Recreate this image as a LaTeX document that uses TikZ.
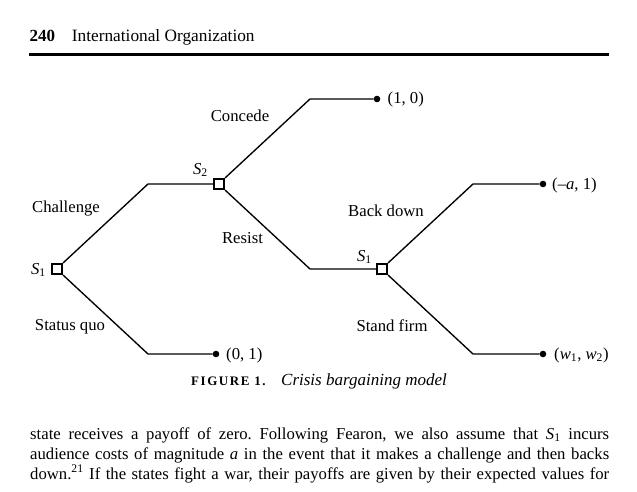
\documentclass[tikz,border=0pt]{standalone}
\usepackage{fontspec}
\setmainfont{Liberation Serif}
\newfontfamily\capfont[LetterSpace=12]{Liberation Serif}
\frenchspacing
\begin{document}
\begin{tikzpicture}[x=1pt,y=-1pt,
  dm/.style={draw, line width=1.6pt, minimum size=10.4pt, inner sep=0pt, fill=white},
  tdot/.style={circle, fill, inner sep=0pt, minimum size=6.6pt},
  br/.style={line width=1.35pt},
  lab/.style={inner sep=0pt, font=\fontsize{16.7}{20}\selectfont},
  txt/.style={inner sep=0pt, anchor=base west, font=\fontsize{16.7}{20}\selectfont}]
\useasboundingbox (0,0) rectangle (637,492);
% header
\node[txt, font=\fontsize{17}{20}\selectfont\bfseries] (pg) at (29.3,42) {240};
\node[txt, font=\fontsize{17.3}{20}\selectfont] (jr) at (71.7,42) {International Organization};
\fill (29.3,52.8) rectangle (609.3,56.3);
% decision nodes
\node[dm] (s1a) at (57,269) {};
\node[dm] (s2) at (219,184) {};
\node[dm] (s1b) at (382,269) {};
% terminal dots
\node[tdot] (t10) at (377,99) {};
\node[tdot] (ta1) at (543,184) {};
\node[tdot] (tw) at (543,354) {};
\node[tdot] (t01) at (216,354) {};
% knees
\coordinate (kc) at (148,184);
\coordinate (ksq) at (148,354);
\coordinate (kco) at (310,99);
\coordinate (kr) at (310,269);
\coordinate (kb) at (473,184);
\coordinate (ks) at (473,354);
% branches
\draw[br] (s1a.north east) -- (kc) -- (s2.west);
\draw[br] (s1a.south east) -- (ksq) -- (t01);
\draw[br] (s2.north east) -- (kco) -- (t10);
\draw[br] (s2.south east) -- (kr) -- (s1b.west);
\draw[br] (s1b.north east) -- (kb) -- (ta1);
\draw[br] (s1b.south east) -- (ks) -- (tw);
% redraw boxes on top
\node[dm] at (s1a) {};
\node[dm] at (s2) {};
\node[dm] at (s1b) {};
% player labels
\node[lab, anchor=base east] (l1a) at (46,274) {\textit{S}\textsubscript{1}};
\node[lab, anchor=base east] (l2) at (208,174) {\textit{S}\textsubscript{2}};
\node[lab, anchor=base east] (l1b) at (372,261) {\textit{S}\textsubscript{1}};
% action labels
\node[lab, anchor=base] (aco) at (240,122) {Concede};
\node[lab, anchor=base] (ach) at (66,212) {Challenge};
\node[lab, anchor=base] (are) at (242.5,243) {Resist};
\node[lab, anchor=base] (asq) at (70,330) {Status quo};
\node[lab, anchor=base] (abd) at (386,216) {Back down};
\node[lab, anchor=base] (asf) at (392,331) {Stand firm};
% payoffs
\node[lab, anchor=base west] (p10) at (387.5,104) {(1, 0)};
\node[lab, anchor=base west] (pa1) at (552,189) {(\textendash\textit{a}, 1)};
\node[lab, anchor=base west] (p01) at (226,359) {(0, 1)};
\node[lab, anchor=base west] (pw) at (554,359) {(\textit{w}\textsubscript{1}, \textit{w}\textsubscript{2})};
% caption
\node[txt, font=\fontsize{13}{15}\selectfont\capfont\bfseries] (cap1) at (191,385) {FIGURE 1.};
\node[txt, font=\fontsize{17}{20}\selectfont\itshape] (cap2) at (281,385) {Crisis bargaining model};
% body text
\node[txt] (b1) at (30,439) {\hbox to 579pt{state receives a payoff of zero. Following Fearon, we also assume that \textit{S}\textsubscript{1} incurs}};
\node[txt] (b2) at (30,459) {\hbox to 579pt{audience costs of magnitude \textit{a} in the event that it makes a challenge and then backs}};
\node[txt] (b3) at (30,479) {\hbox to 579pt{down.\textsuperscript{21} If the states fight a war, their payoffs are given by their expected values for}};
\end{tikzpicture}
\end{document}
